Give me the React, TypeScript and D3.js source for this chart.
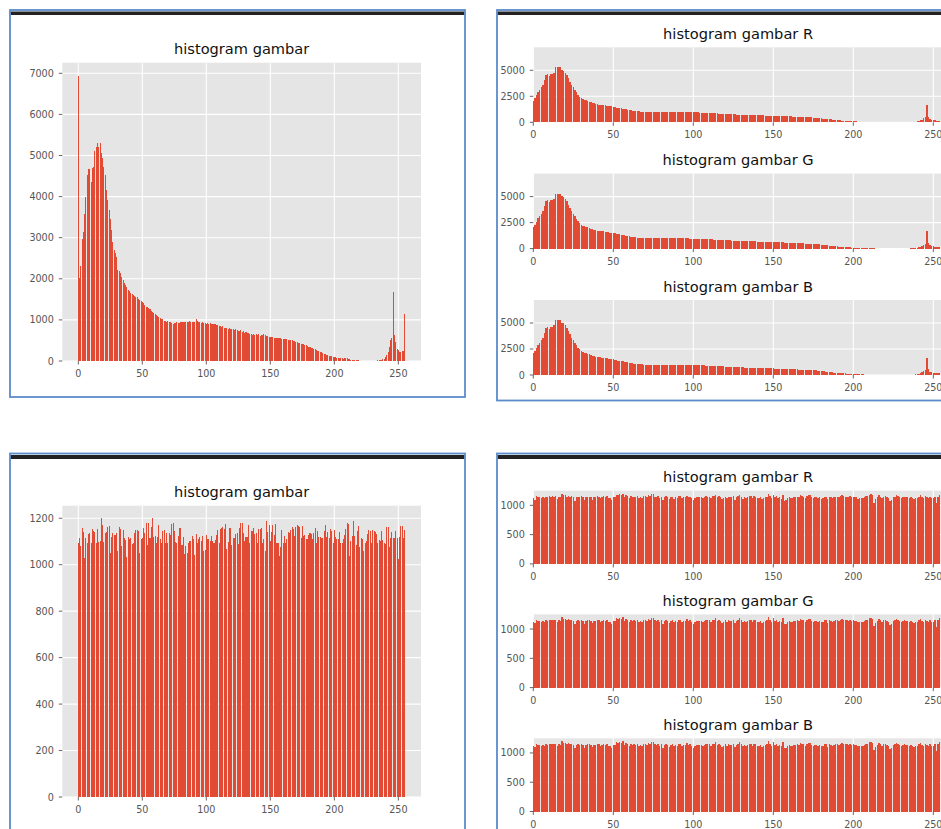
import React from 'react';
import * as d3 from 'd3';

// ---- data ----
const grayCounts = [
  6942, 2011, 2311, 2960, 3147, 3577, 3982, 4525, 4663, 4663,
  4363, 4688, 4712, 5118, 5199, 5296, 5199, 5296, 5053, 4931,
  4728, 4525, 4161, 3917, 3674, 3447, 3187, 2903, 2701, 2620,
  2539, 2214, 2198, 2133, 2052, 1971, 1906, 1841, 1809, 1727,
  1711, 1663, 1630, 1606, 1581, 1549, 1565, 1517, 1484, 1468,
  1444, 1403, 1363, 1322, 1306, 1281, 1257, 1225, 1200, 1160,
  1144, 1119, 1095, 1079, 1038, 1014, 1014, 981, 981, 957,
  981, 957, 957, 933, 900, 916, 933, 949, 916, 933,
  949, 946, 952, 940, 958, 944, 950, 962, 948, 955,
  960, 945, 1020, 965, 950, 955, 935, 940, 925, 930,
  905, 915, 898, 930, 905, 900, 890, 905, 870, 880,
  840, 860, 830, 855, 800, 810, 805, 790, 800, 775,
  770, 790, 760, 770, 745, 740, 735, 750, 700, 720,
  680, 700, 690, 670, 665, 660, 640, 655, 640, 650,
  630, 645, 620, 640, 625, 650, 630, 610, 600, 595,
  585, 580, 575, 570, 565, 560, 555, 550, 548, 540,
  540, 535, 530, 530, 520, 515, 505, 500, 490, 480,
  470, 460, 450, 440, 425, 415, 405, 395, 380, 365,
  350, 340, 325, 310, 295, 285, 270, 255, 240, 225,
  210, 195, 180, 165, 155, 145, 130, 120, 110, 105,
  100, 90, 85, 80, 70, 65, 70, 60, 65, 70,
  62, 55, 45, 35, 30, 25, 22, 18, 15, 14,
  12, 12, 10, 10, 9, 10, 11, 10, 9, 10,
  10, 11, 10, 12, 14, 16, 18, 22, 40, 60,
  90, 145, 230, 350, 510, 550, 1690, 630, 470, 290,
  270, 230, 230, 240, 250, 1135,
];

const channelCounts = [
  2080, 2300, 2600, 2900, 3100, 3350, 3590, 4070, 4550, 4650,
  4450, 4650, 4650, 4780, 5290, 5290, 5290, 5290, 5030, 4980,
  4780, 4550, 4230, 3910, 3590, 3370, 3120, 2880, 2630, 2470,
  2300, 2220, 2150, 2100, 2040, 1990, 1930, 1870, 1820, 1770,
  1740, 1710, 1690, 1670, 1650, 1620, 1600, 1570, 1540, 1520,
  1500, 1460, 1420, 1390, 1360, 1340, 1300, 1270, 1240, 1210,
  1190, 1160, 1130, 1100, 1080, 1060, 1040, 1020, 1010, 1000,
  1000, 990, 985, 980, 975, 980, 985, 990, 980, 985,
  990, 985, 990, 980, 985, 990, 985, 990, 995, 990,
  985, 990, 1000, 995, 990, 1000, 985, 980, 970, 965,
  960, 955, 950, 945, 940, 935, 925, 920, 910, 905,
  900, 890, 880, 870, 860, 850, 840, 835, 830, 820,
  810, 800, 790, 780, 770, 760, 750, 745, 740, 735,
  730, 725, 715, 710, 705, 700, 700, 695, 690, 685,
  680, 675, 670, 665, 660, 650, 645, 640, 635, 630,
  625, 620, 615, 610, 600, 595, 590, 585, 580, 575,
  570, 565, 555, 550, 540, 530, 520, 515, 505, 500,
  490, 485, 480, 475, 470, 460, 450, 440, 420, 400,
  380, 360, 340, 320, 300, 290, 270, 255, 240, 225,
  215, 200, 185, 170, 160, 150, 135, 125, 115, 105,
  100, 90, 80, 70, 65, 55, 50, 45, 40, 35,
  30, 25, 20, 10, 8, 6, 5, 4, 3, 3,
  2, 2, 2, 2, 2, 2, 2, 2, 2, 2,
  2, 2, 2, 3, 4, 6, 10, 20, 35, 50,
  80, 120, 180, 260, 380, 480, 1670, 540, 330, 260,
  220, 200, 170, 160, 160, 160,
];

const grayEqCounts = [
  1092, 1114, 1080, 1157, 1142, 1027, 1114, 1092, 1132, 1138,
  1092, 1153, 1147, 1142, 1092, 1153, 1099, 1104, 1200, 1171,
  1099, 1138, 1142, 1164, 1167, 1052, 1121, 1138, 1128, 1128,
  1135, 1060, 1164, 1153, 1080, 1150, 1114, 1106, 1035, 1121,
  1109, 1114, 1088, 1092, 1138, 1150, 1150, 1147, 1052, 1109,
  1114, 1157, 1138, 1178, 1085, 1181, 1114, 1164, 1200, 1121,
  1124, 1095, 1121, 1171, 1109, 1092, 1147, 1150, 1092, 1138,
  1092, 1138, 1128, 1176, 1181, 1147, 1099, 1095, 1124, 1157,
  1157, 1085, 1121, 1046, 1080, 1052, 1095, 1104, 1104, 1124,
  1109, 1042, 1132, 1092, 1109, 1121, 1104, 1124, 1060, 1063,
  1128, 1109, 1109, 1104, 1124, 1104, 1092, 1106, 1128, 1150,
  1092, 1153, 1157, 1161, 1153, 1176, 1066, 1099, 1157, 1157,
  1085, 1114, 1114, 1132, 1135, 1089, 1157, 1178, 1178, 1138,
  1104, 1121, 1121, 1171, 1092, 1147, 1147, 1157, 1132, 1138,
  1092, 1153, 1153, 1157, 1092, 1109, 1060, 1190, 1142, 1171,
  1104, 1142, 1171, 1128, 1176, 1092, 1092, 1037, 1075, 1150,
  1092, 1124, 1092, 1109, 1142, 1138, 1150, 1161, 1153, 1124,
  1164, 1171, 1167, 1164, 1114, 1167, 1124, 1128, 1109, 1109,
  1128, 1135, 1132, 1109, 1138, 1157, 1095, 1147, 1121, 1118,
  1114, 1114, 1147, 1171, 1118, 1142, 1114, 1153, 1147, 1092,
  1150, 1121, 1109, 1109, 1142, 1092, 1092, 1109, 1128, 1153,
  1178, 1176, 1037, 1104, 1124, 1186, 1124, 1085, 1147, 1167,
  1075, 1114, 1109, 1060, 1092, 1104, 1132, 1150, 1147, 1095,
  1150, 1147, 1142, 1132, 1092, 1106, 1104, 1147, 1106, 1092,
  1089, 1161, 1161, 1078, 1114, 1142, 1114, 1114, 1147, 1114,
  1023, 1121, 1167, 1167, 1114, 1150,
];

const channelEqCounts = [
  1126, 1097, 1154, 1143, 1143, 1126, 1137, 1126, 1149, 1137,
  1154, 1149, 1160, 1149, 1160, 1114, 1149, 1143, 1200, 1171,
  1171, 1149, 1166, 1149, 1160, 1137, 1080, 1137, 1149, 1143,
  1154, 1137, 1091, 1143, 1149, 1149, 1137, 1097, 1137, 1137,
  1160, 1149, 1126, 1143, 1160, 1137, 1154, 1126, 1126, 1091,
  1137, 1143, 1183, 1171, 1194, 1171, 1200, 1137, 1171, 1154,
  1126, 1160, 1143, 1149, 1137, 1154, 1126, 1143, 1126, 1160,
  1154, 1143, 1171, 1160, 1194, 1194, 1149, 1143, 1154, 1126,
  1149, 1091, 1137, 1154, 1143, 1109, 1137, 1149, 1114, 1143,
  1126, 1154, 1154, 1126, 1137, 1137, 1166, 1137, 1149, 1126,
  1091, 1126, 1137, 1137, 1137, 1137, 1126, 1137, 1160, 1149,
  1149, 1126, 1154, 1154, 1183, 1137, 1154, 1137, 1109, 1126,
  1149, 1126, 1149, 1137, 1137, 1154, 1097, 1137, 1154, 1183,
  1149, 1114, 1137, 1126, 1137, 1154, 1154, 1126, 1154, 1149,
  1126, 1126, 1137, 1109, 1126, 1143, 1149, 1200, 1160, 1126,
  1183, 1137, 1160, 1126, 1137, 1114, 1183, 1080, 1091, 1126,
  1137, 1126, 1126, 1143, 1143, 1149, 1137, 1171, 1160, 1149,
  1126, 1160, 1171, 1171, 1137, 1126, 1137, 1137, 1126, 1137,
  1114, 1126, 1149, 1149, 1103, 1149, 1137, 1126, 1137, 1149,
  1149, 1137, 1160, 1171, 1160, 1149, 1149, 1137, 1160, 1137,
  1149, 1137, 1137, 1114, 1126, 1126, 1126, 1137, 1160, 1160,
  1183, 1194, 1171, 1046, 1103, 1137, 1171, 1149, 1126, 1149,
  1160, 1137, 1126, 1069, 1091, 1137, 1149, 1171, 1160, 1137,
  1126, 1137, 1149, 1137, 1137, 1126, 1137, 1126, 1103, 1126,
  1126, 1149, 1171, 1137, 1126, 1160, 1137, 1126, 1149, 1126,
  1126, 1149, 1034, 1149, 1183, 1130,
];

const channelNames = ['R', 'G', 'B'];
const xTickValues = [0, 50, 100, 150, 200, 250];
const grayYTicks = [0, 1000, 2000, 3000, 4000, 5000, 6000, 7000];
const channelYTicks = [0, 2500, 5000];
const grayEqYTicks = [0, 200, 400, 600, 800, 1000, 1200];
const channelEqYTicks = [0, 500, 1000];
const titleText = 'histogram gambar';

// ---- styles ----
const FONT = '"DejaVu Sans", Verdana, sans-serif';
const BAR = '#E24A33';
const BG = '#E5E5E5';
const TICK = '#555555';
const FRAME = '#5b8bcb';

type HistProps = {
  data: number[];
  left: number;
  top: number;
  width: number;
  height: number;
  xDomain: [number, number];
  yMax: number;
  yTicks: number[];
  title: string;
  labelOffset: number;
};

function Histogram({ data, left, top, width, height, xDomain, yMax, yTicks, title, labelOffset }: HistProps) {
  const x = d3.scaleLinear().domain(xDomain).range([left, left + width]);
  const y = d3.scaleLinear().domain([0, yMax]).range([top + height, top]);
  const bottom = top + height;
  return (
    <g>
      <rect x={left} y={top} width={width} height={height} fill={BG} />
      {xTickValues.map((t) => (
        <line key={'gx' + t} x1={x(t)} x2={x(t)} y1={top} y2={bottom} stroke="#fff" strokeWidth={1.1} />
      ))}
      {yTicks.map((t) => (
        <line key={'gy' + t} x1={left} x2={left + width} y1={y(t)} y2={y(t)} stroke="#fff" strokeWidth={1.1} />
      ))}
      <g shapeRendering="crispEdges">
        {data.map((v, i) => (
          <rect
            key={'b' + i}
            x={x(i - 0.4)}
            width={x(i + 0.4) - x(i - 0.4)}
            y={y(v)}
            height={bottom - y(v)}
            fill={BAR}
          />
        ))}
      </g>
      {xTickValues.map((t) => (
        <g key={'tx' + t}>
          <line x1={x(t)} x2={x(t)} y1={bottom} y2={bottom + 3.5} stroke={TICK} strokeWidth={0.9} />
          <text x={x(t)} y={bottom + labelOffset} textAnchor="middle" fontFamily={FONT} fontSize={9.6} fill={TICK}>
            {t}
          </text>
        </g>
      ))}
      {yTicks.map((t) => (
        <g key={'ty' + t}>
          <line x1={left - 3.5} x2={left} y1={y(t)} y2={y(t)} stroke={TICK} strokeWidth={0.9} />
          <text x={left - 8.5} y={y(t) + 3.5} textAnchor="end" fontFamily={FONT} fontSize={9.6} fill={TICK}>
            {t}
          </text>
        </g>
      ))}
      <text x={left + width / 2} y={top - 8.5} textAnchor="middle" fontFamily={FONT} fontSize={14.6} fill="#111">
        {title}
      </text>
    </g>
  );
}

function Frame({ x, y, w, h, barH }: { x: number; y: number; w: number; h: number; barH: number }) {
  return (
    <g>
      <rect x={x} y={y} width={w} height={h} fill="#fff" stroke={FRAME} strokeWidth={1.8} />
      <rect x={x + 0.9} y={y + 1.5} width={w - 1.8} height={barH} fill="#222" />
    </g>
  );
}

export default function App() {
  const rightLeft = 533.3;
  const rightWidth = 409.6;
  const topTops = [47.3, 173.6, 300];
  const botTops = [490.7, 614.4, 738.3];
  return (
    <div style={{ position: 'absolute', left: 0, top: 0 }}>
      <svg width={941} height={829} style={{ display: 'block', background: '#fff' }}>
        <Frame x={10} y={10} w={455} h={387} barH={3.5} />
        <Frame x={497} y={10} w={460} h={390.5} barH={3.5} />
        <Frame x={10} y={453.5} w={455} h={400} barH={4} />
        <Frame x={497} y={453.5} w={460} h={400} barH={4} />

        <Histogram
          data={grayCounts}
          left={62.3}
          top={62.7}
          width={358.7}
          height={298.3}
          xDomain={[-12.5, 267.7]}
          yMax={7258}
          yTicks={grayYTicks}
          title={titleText}
          labelOffset={15.5}
        />
        {channelNames.map((c, i) => (
          <Histogram
            key={'c' + c}
            data={channelCounts}
            left={rightLeft}
            top={topTops[i]}
            width={rightWidth}
            height={75}
            xDomain={[0, 256]}
            yMax={7211}
            yTicks={channelYTicks}
            title={`${titleText} ${c}`}
            labelOffset={16}
          />
        ))}
        <Histogram
          data={grayEqCounts}
          left={62.3}
          top={505.7}
          width={358.7}
          height={291.3}
          xDomain={[-12.5, 267.7]}
          yMax={1254}
          yTicks={grayEqYTicks}
          title={titleText}
          labelOffset={15.5}
        />
        {channelNames.map((c, i) => (
          <Histogram
            key={'e' + c}
            data={channelEqCounts}
            left={rightLeft}
            top={botTops[i]}
            width={rightWidth}
            height={73.2}
            xDomain={[0, 256]}
            yMax={1250}
            yTicks={channelEqYTicks}
            title={`${titleText} ${c}`}
            labelOffset={16}
          />
        ))}
      </svg>
    </div>
  );
}
